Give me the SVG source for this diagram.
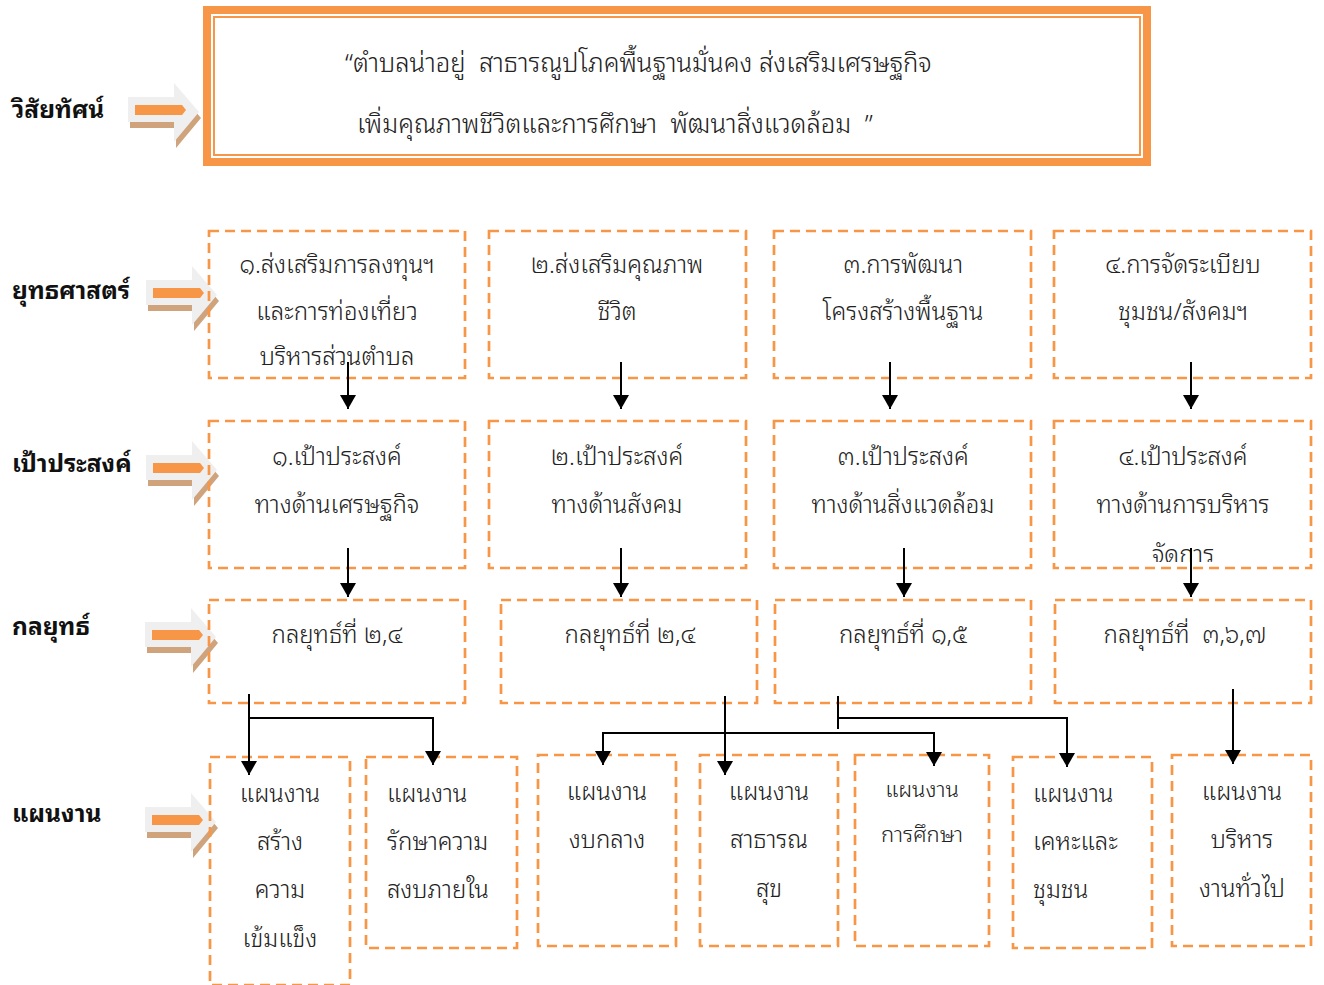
<svg xmlns="http://www.w3.org/2000/svg" xmlns:xlink="http://www.w3.org/1999/xlink" width="1324" height="985" viewBox="0 0 1324 985">
<style>
.box{fill:none;stroke:#f79646;stroke-width:2.7;stroke-dasharray:10 6}
.t{font-family:"Noto Sans Thai Looped","Noto Serif Thai","Noto Sans","Noto Sans Thai",sans-serif;font-size:24px;font-weight:300;fill:#222;text-anchor:middle}
.tl{font-family:"Noto Sans Thai Looped","Noto Serif Thai","Noto Sans","Noto Sans Thai",sans-serif;font-size:24px;font-weight:300;fill:#222}
.lab{font-family:"Noto Sans Thai Looped","Noto Serif Thai","Noto Sans","Noto Sans Thai",sans-serif;font-size:24.5px;font-weight:bold;fill:#111}
.vis{font-family:"Noto Sans Thai Looped","Noto Serif Thai","Noto Sans","Noto Sans Thai",sans-serif;font-size:25.7px;font-weight:300;fill:#222}
.c{fill:none;stroke:#000;stroke-width:2}
</style>
<defs>
<marker id="ah" viewBox="0 0 14 16" refX="14" refY="8" markerWidth="14" markerHeight="16" orient="auto" markerUnits="userSpaceOnUse">
<path d="M0,0 L14,8 L0,16 z" fill="#000"/>
</marker>
<g id="blk">
<polygon points="-71,-15 -25,-15 -25,-29 0,0 -25,30 -25,10 -71,10" fill="#cfa37c" transform="translate(2,6)"/>
<polygon points="-71,-15 -25,-15 -25,-29 0,0 -25,30 -25,10 -71,10" fill="#efefef"/>
<polygon points="-64,-7 -17,-7 -13,-2 -17,3 -64,3" fill="#f79646"/>
</g>
<clipPath id="clip4"><rect x="1054" y="421" width="257" height="141"/></clipPath>
</defs>

<g id="vision">
<rect x="207" y="10" width="940" height="152" fill="#fff" stroke="#f79646" stroke-width="8"/>
<rect x="214" y="17" width="926" height="138" fill="none" stroke="#f79646" stroke-width="2"/>
<text class="vis" x="345" y="72" xml:space="preserve">“ตำบลน่าอยู่  สาธารณูปโภคพื้นฐานมั่นคง ส่งเสริมเศรษฐกิจ</text>
<text class="vis" x="357" y="133" xml:space="preserve">เพิ่มคุณภาพชีวิตและการศึกษา  พัฒนาสิ่งแวดล้อม  ”</text>
</g>

<g id="labels">
<text class="lab" x="12" y="118">วิสัยทัศน์</text>
<text class="lab" x="12" y="299">ยุทธศาสตร์</text>
<text class="lab" x="12" y="472">เป้าประสงค์</text>
<text class="lab" x="12" y="635">กลยุทธ์</text>
<text class="lab" x="12" y="822">แผนงาน</text>
</g>

<g id="block-arrows">
<use xlink:href="#blk" href="#blk" x="199" y="112"/>
<use xlink:href="#blk" href="#blk" x="217" y="295"/>
<use xlink:href="#blk" href="#blk" x="217" y="470"/>
<use xlink:href="#blk" href="#blk" x="216" y="637"/>
<use xlink:href="#blk" href="#blk" x="216" y="822"/>
</g>

<g id="strategy-1"><rect class="box" x="209" y="231" width="256" height="147"/>
<text class="t" x="337" y="273">๑.ส่งเสริมการลงทุนฯ</text>
<text class="t" x="337" y="320">และการท่องเที่ยว</text>
<text class="t" x="337" y="365">บริหารส่วนตำบล</text></g>
<g id="strategy-2"><rect class="box" x="489" y="231" width="257" height="147"/>
<text class="t" x="617" y="273">๒.ส่งเสริมคุณภาพ</text>
<text class="t" x="617" y="320">ชีวิต</text></g>
<g id="strategy-3"><rect class="box" x="774" y="231" width="257" height="147"/>
<text class="t" x="903" y="273">๓.การพัฒนา</text>
<text class="t" x="903" y="320">โครงสร้างพื้นฐาน</text></g>
<g id="strategy-4"><rect class="box" x="1054" y="231" width="257" height="147"/>
<text class="t" x="1183" y="273">๔.การจัดระเบียบ</text>
<text class="t" x="1183" y="320">ชุมชน/สังคมฯ</text></g>

<g id="goal-1"><rect class="box" x="209" y="421" width="256" height="147"/>
<text class="t" x="337" y="465">๑.เป้าประสงค์</text>
<text class="t" x="337" y="513">ทางด้านเศรษฐกิจ</text></g>
<g id="goal-2"><rect class="box" x="489" y="421" width="257" height="147"/>
<text class="t" x="617" y="465">๒.เป้าประสงค์</text>
<text class="t" x="617" y="513">ทางด้านสังคม</text></g>
<g id="goal-3"><rect class="box" x="774" y="421" width="257" height="147"/>
<text class="t" x="903" y="465">๓.เป้าประสงค์</text>
<text class="t" x="903" y="513">ทางด้านสิ่งแวดล้อม</text></g>
<g id="goal-4"><rect class="box" x="1054" y="421" width="257" height="147"/>
<text class="t" x="1183" y="465">๔.เป้าประสงค์</text>
<text class="t" x="1183" y="513">ทางด้านการบริหาร</text>
<text class="t" x="1183" y="563" clip-path="url(#clip4)">จัดการ</text></g>

<g id="tactic-1"><rect class="box" x="209" y="600" width="256" height="103"/>
<text class="t" x="337" y="643">กลยุทธ์ที่ ๒,๔</text></g>
<g id="tactic-2"><rect class="box" x="501" y="600" width="256" height="103"/>
<text class="t" x="630" y="643">กลยุทธ์ที่ ๒,๔</text></g>
<g id="tactic-3"><rect class="box" x="775" y="600" width="256" height="103"/>
<text class="t" x="903" y="643">กลยุทธ์ที่ ๑,๕</text></g>
<g id="tactic-4"><rect class="box" x="1055" y="600" width="256" height="103"/>
<text class="t" x="1185" y="643" xml:space="preserve">กลยุทธ์ที่  ๓,๖,๗</text></g>

<g id="plan-1"><rect class="box" x="210" y="757" width="140" height="228"/>
<text class="t" x="280" y="802">แผนงาน</text>
<text class="t" x="280" y="850">สร้าง</text>
<text class="t" x="280" y="898">ความ</text>
<text class="t" x="280" y="947">เข้มแข็ง</text></g>
<g id="plan-2"><rect class="box" x="366" y="757" width="151" height="191"/>
<text class="tl" x="387" y="802">แผนงาน</text>
<text class="tl" x="387" y="850">รักษาความ</text>
<text class="tl" x="387" y="898">สงบภายใน</text></g>
<g id="plan-3"><rect class="box" x="538" y="755" width="138" height="191"/>
<text class="t" x="607" y="800">แผนงาน</text>
<text class="t" x="607" y="848">งบกลาง</text></g>
<g id="plan-4"><rect class="box" x="700" y="755" width="138" height="191"/>
<text class="t" x="769" y="800">แผนงาน</text>
<text class="t" x="769" y="848">สาธารณ</text>
<text class="t" x="769" y="897">สุข</text></g>
<g id="plan-5"><rect class="box" x="855" y="755" width="134" height="191"/>
<text class="t" x="922" y="797" style="font-size:22px">แผนงาน</text>
<text class="t" x="922" y="842" style="font-size:22px">การศึกษา</text></g>
<g id="plan-6"><rect class="box" x="1013" y="757" width="139" height="191"/>
<text class="tl" x="1033" y="802">แผนงาน</text>
<text class="tl" x="1033" y="850">เคหะและ</text>
<text class="tl" x="1033" y="898">ชุมชน</text></g>
<g id="plan-7"><rect class="box" x="1172" y="755" width="139" height="191"/>
<text class="t" x="1242" y="800">แผนงาน</text>
<text class="t" x="1242" y="848">บริหาร</text>
<text class="t" x="1242" y="897">งานทั่วไป</text></g>

<g id="connectors">
<path class="c" d="M348,362 V409" marker-end="url(#ah)"/>
<path class="c" d="M621,362 V409" marker-end="url(#ah)"/>
<path class="c" d="M890,362 V409" marker-end="url(#ah)"/>
<path class="c" d="M1191,362 V409" marker-end="url(#ah)"/>
<path class="c" d="M348,548 V597" marker-end="url(#ah)"/>
<path class="c" d="M621,548 V597" marker-end="url(#ah)"/>
<path class="c" d="M904,548 V597" marker-end="url(#ah)"/>
<path class="c" d="M1191,548 V597" marker-end="url(#ah)"/>
<path class="c" d="M249,694 V775" marker-end="url(#ah)"/>
<path class="c" d="M249,718 H433 V765" marker-end="url(#ah)"/>
<path class="c" d="M725,696 V775" marker-end="url(#ah)"/>
<path class="c" d="M725,733 H603 V765" marker-end="url(#ah)"/>
<path class="c" d="M725,733 H934 V766" marker-end="url(#ah)"/>
<path class="c" d="M838,696 V729"/>
<path class="c" d="M838,718 H1067 V767" marker-end="url(#ah)"/>
<path class="c" d="M1233,689 V764" marker-end="url(#ah)"/>
</g>
</svg>
